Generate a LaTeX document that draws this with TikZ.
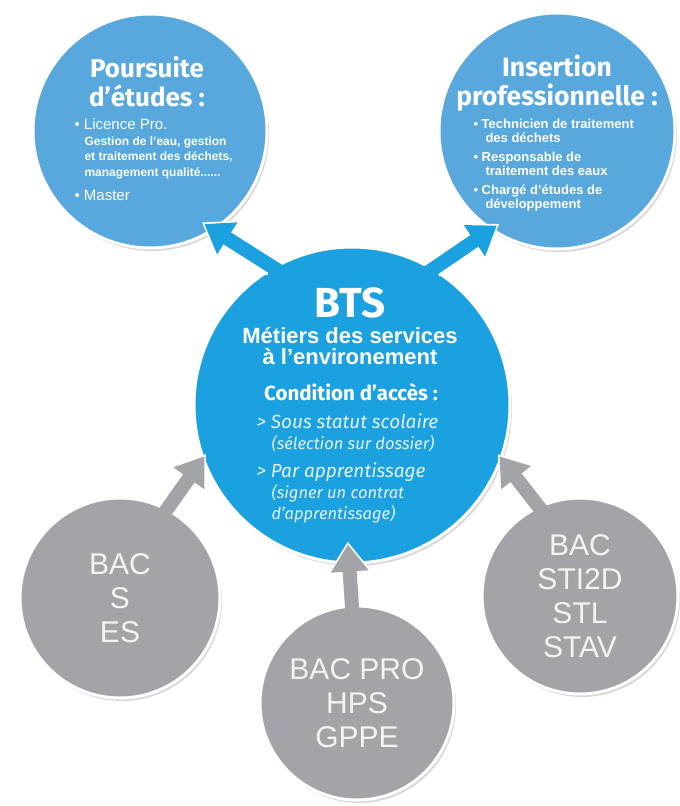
\documentclass[tikz,border=0pt]{standalone}
\usepackage{fontspec}
\setmainfont{Liberation Sans}
\newfontfamily\firafont{Fira Sans}
\usetikzlibrary{arrows.meta,shadows}
\definecolor{btsblue}{RGB}{27,161,224}
\definecolor{softblue}{RGB}{88,168,221}
\definecolor{bacgray}{RGB}{163,164,167}
\definecolor{bactext}{RGB}{243,243,243}
\definecolor{accesblue}{RGB}{226,242,251}

\begin{document}
\begin{tikzpicture}[x=1pt,y=-1pt,
  bubble/.style={circle,draw=white,line width=3pt,inner sep=0pt,drop shadow={shadow xshift=2pt,shadow yshift=-3pt,opacity=.3}},
  bacbubble/.style={bubble,fill=bacgray,text=bactext,align=center,font=\fontsize{30}{34}\selectfont},
  halo/.style={draw=white,line width=20pt,-{Triangle[width=44pt,length=33pt]}},
  bluearrow/.style={draw=btsblue,line width=14pt,-{Triangle[width=36pt,length=27pt]},shorten <=-8pt},
  grayarrow/.style={draw=bacgray,line width=14pt,-{Triangle[width=36pt,length=27pt]},shorten <=-8pt},
  every node/.style={text=white}]
\useasboundingbox[fill=white] (0,0) rectangle (680,806);

% circles
\node[bubble,fill=softblue,minimum size=234pt] (pours) at (150,131) {};
\node[bubble,fill=softblue,minimum size=236pt] (insert) at (557,131) {};
\node[bubble,fill=btsblue,minimum size=316pt] (bts) at (352,405) {};
\node[bacbubble,minimum size=200pt] (bacs) at (120,598) {BAC\\S\\ES};
\node[bacbubble,minimum size=194pt] (bacpro) at (357,703) {BAC PRO\\HPS\\GPPE};
\node[bacbubble,minimum size=196pt] (bacsti) at (580,596) {BAC\\STI2D\\STL\\STAV};

% arrows
\draw[halo,shorten >=-15pt] (bts.120) -- (pours.-57);
\draw[bluearrow,shorten >=-12pt] (bts.120) -- (pours.-57);
\draw[halo,shorten >=-11pt] (bts.59) -- (insert.236);
\draw[bluearrow,shorten >=-8pt] (bts.59) -- (insert.236);
\draw[halo,shorten >=-7pt] (bacs.62) -- (bts.200);
\draw[grayarrow,shorten >=-4pt] (bacs.62) -- (bts.200);
\draw[halo,shorten >=-7pt] (bacsti.115) -- (bts.340);
\draw[grayarrow,shorten >=-4pt] (bacsti.115) -- (bts.340);
\draw[halo,shorten >=-23pt] (bacpro.93) -- (bts.-91);
\draw[grayarrow,shorten >=-20pt] (bacpro.93) -- (bts.-91);

% texts
\node[font=\firafont\bfseries\fontsize{26}{29}\selectfont,align=center] (poursT) at (147,82) {Poursuite\\d’études :};
\node[anchor=west,align=left,font=\fontsize{12}{15.5}\selectfont] (poursL) at (71,160) {\fontsize{15}{15.5}\selectfont • Licence Pro.\\
  \hspace*{10pt}\bfseries Gestion de l’eau, gestion\\
  \hspace*{10pt}\bfseries et traitement des déchets,\\
  \hspace*{10pt}\bfseries management qualité......\\[9pt]
  \fontsize{15}{15.5}\selectfont • Master};
\node[font=\firafont\bfseries\fontsize{26.5}{29}\selectfont,align=center] (insertT) at (557,83) {Insertion\\professionnelle :};
\node[anchor=west,align=left,font=\bfseries\fontsize{13}{14.5}\selectfont] (insertL) at (470,165) {• Technicien de traitement\\
  \hspace*{12pt}des déchets\\[4pt]
  • Responsable de\\
  \hspace*{12pt}traitement des eaux\\[4pt]
  • Chargé d’études de\\
  \hspace*{12pt}développement};
\node[font=\firafont\bfseries\fontsize{42}{42}\selectfont] (btsT) at (350,303) {BTS};
\node[font=\bfseries\fontsize{22}{21}\selectfont,align=center] (btsM) at (350,346) {Métiers des services\\à l’environement};
\node[font=\firafont\bfseries\fontsize{20.5}{20}\selectfont] (accesT) at (351,392) {Condition d’accès :};
\node[anchor=west,align=left,text=accesblue,font=\firafont\itshape\fontsize{19}{21}\selectfont] (accesL) at (253,468) {> Sous statut scolaire\\
  \hspace*{15pt}\fontsize{16.5}{21}\selectfont(sélection sur dossier)\\[7pt]
  > Par apprentissage\\
  \hspace*{15pt}\fontsize{16.5}{21}\selectfont(signer un contrat\\
  \hspace*{15pt}\fontsize{16.5}{21}\selectfont d’apprentissage)};
\end{tikzpicture}
\end{document}
